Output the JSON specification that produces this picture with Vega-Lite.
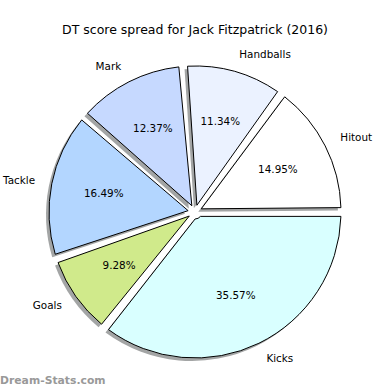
{
  "$schema": "https://vega.github.io/schema/vega-lite/v6.json",
  "padding": {"top": 23, "left": 0, "right": 0, "bottom": 0},
  "background": "white",
  "title": {"text": "DT score spread for Jack Fitzpatrick (2016)", "anchor": "middle", "fontSize": 12.5, "font": "DejaVu Sans", "fontWeight": "normal", "offset": 11, "color": "#000000"},
  "config": {"view": {"stroke": null}, "concat": {"spacing": 0}, "text": {"font": "DejaVu Sans"}},
  "data": {"values": [
    {"idx": 1, "stat": "Hitout", "share": 0.1495},
    {"idx": 2, "stat": "Handballs", "share": 0.1134},
    {"idx": 3, "stat": "Mark", "share": 0.1237},
    {"idx": 4, "stat": "Tackle", "share": 0.1649},
    {"idx": 5, "stat": "Goals", "share": 0.0928},
    {"idx": 6, "stat": "Kicks", "share": 0.3557}
  ]},
  "vconcat": [{
    "width": 390,
    "height": 330,
    "title": {"text": "Dream-Stats.com", "orient": "bottom", "anchor": "start", "fontSize": 10.8, "fontWeight": "bold", "color": "#999999", "offset": -2, "font": "DejaVu Sans"},
    "encoding": {
      "theta": {"field": "share", "type": "quantitative", "stack": true, "scale": {"domain": [0, 1], "range": [1.5708, -4.7124]}},
      "order": {"field": "idx", "type": "quantitative"},
      "detail": {"field": "stat", "type": "nominal"}
    },
    "layer": [
      {"mark": {"type": "arc", "innerRadius": 7, "outerRadius": 146, "padAngle": 0.06, "fill": "#a3a5a5", "xOffset": -3, "yOffset": 3}},
      {"mark": {"type": "arc", "innerRadius": 7, "outerRadius": 146, "padAngle": 0.06, "stroke": "#000000", "strokeWidth": 1},
       "encoding": {"color": {"field": "stat", "type": "nominal", "legend": null,
         "scale": {"domain": ["Hitout", "Handballs", "Mark", "Tackle", "Goals", "Kicks"], "range": ["#ffffff", "#ebf2ff", "#c6d9ff", "#b3d6ff", "#d0ea8b", "#d9ffff"]}}}},
      {"mark": {"type": "text", "radius": 93, "fontSize": 10.4, "color": "#000000"},
       "encoding": {"text": {"field": "share", "type": "quantitative", "format": ".2%"}}},
      {"mark": {"type": "text", "radius": 163, "fontSize": 10.4, "color": "#000000", "baseline": "middle",
         "align": {"expr": "cos(PI * (datum.share_start + datum.share_end)) >= 0 ? 'left' : 'right'"}},
       "encoding": {"text": {"field": "stat", "type": "nominal"}}}
    ]
  }]
}
